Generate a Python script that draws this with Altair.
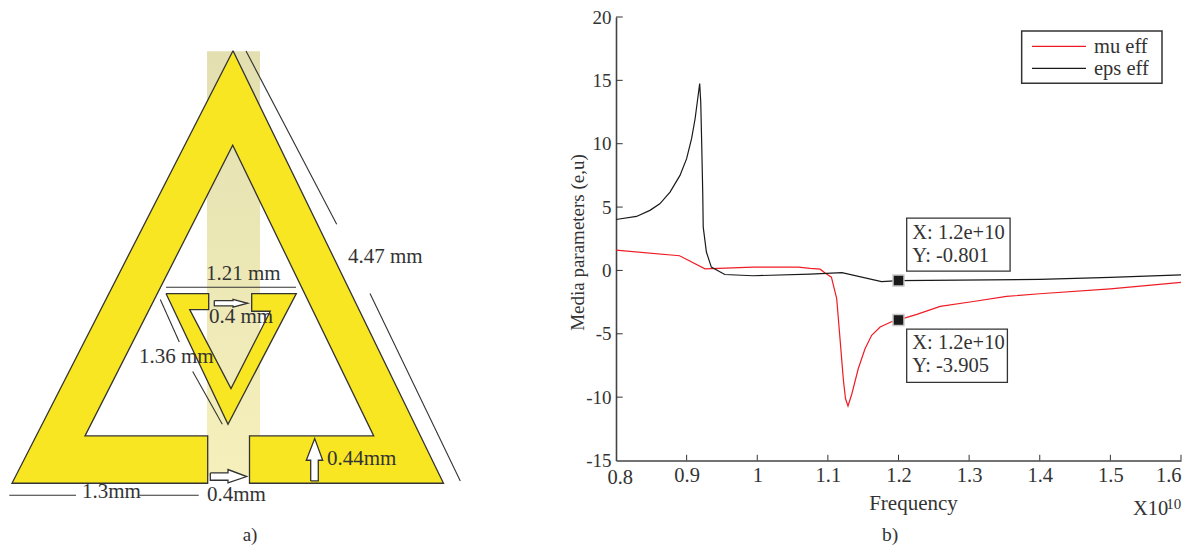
import altair as alt
import pandas as pd

FONT = "Liberation Serif"
INK = "#333333"
YELLOW = "#f8e622"

# ---------- panel b) data ----------
eps_x = [0.80, 0.829, 0.848, 0.862, 0.8765, 0.8906, 0.90, 0.907, 0.912, 0.9157, 0.9185, 0.92, 0.9213, 0.9228, 0.9235, 0.928, 0.935, 0.954, 0.994, 1.075, 1.12, 1.176, 1.20, 1.40, 1.50, 1.60]
eps_y = [4.02, 4.26, 4.74, 5.26, 6.18, 7.5, 8.82, 10.4, 11.97, 13.55, 14.74, 13.28, 10.13, 6.18, 3.42, 1.45, 0.26, -0.32, -0.42, -0.29, -0.18, -0.89, -0.801, -0.71, -0.55, -0.35]
mu_x = [0.80, 0.89, 0.926, 0.994, 1.058, 1.075, 1.089, 1.096, 1.105, 1.1125, 1.117, 1.122, 1.125, 1.1285, 1.134, 1.143, 1.1526, 1.162, 1.174, 1.19, 1.20, 1.226, 1.259, 1.306, 1.353, 1.40, 1.50, 1.60]
mu_y = [1.6, 1.16, 0.13, 0.26, 0.26, 0.16, 0.1, -0.21, -0.53, -2.23, -5.26, -8.68, -10.13, -10.7, -9.73, -7.76, -6.18, -5.12, -4.47, -4.05, -3.905, -3.47, -2.84, -2.45, -2.05, -1.84, -1.45, -0.95]
x_ticks = [0.8, 0.9, 1.0, 1.1, 1.2, 1.3, 1.4, 1.5, 1.6]
y_ticks = [-15, -10, -5, 0, 5, 10, 15, 20]
marker_x = [1.2, 1.2]
marker_y = [-0.801, -3.905]
box_x = [1.2116, 1.2116]
box_x2 = [1.358, 1.3542]
box_y = [4.13, -4.63]
box_y2 = [-0.05, -8.84]
tip_x = [1.2195, 1.2195, 1.2195, 1.2195]
tip_y = [2.95, 1.1, -5.76, -7.58]
tip_text = ["X: 1.2e+10", "Y: -0.801", "X: 1.2e+10", "Y: -3.905"]
series_names = ["mu eff", "eps eff"]
series_colors = ["#ee1c25", "#1a1a1a"]
legend_box = {"a": [1.3744], "b": [1.5731], "c": [18.89], "d": [14.78]}
legend_x = [1.389, 1.389]
legend_x2 = [1.4655, 1.4655]
legend_y = [17.68, 15.94]
legend_text_x = [1.4768, 1.4768]
legend_text_y = [17.6, 15.9]

# ---------- panel a) data, in drawing units ----------
outer_x = [232, 442.5, 248.5, 248.5, 372.7, 231.7, 84, 206.7, 206.7, 11, 232]
outer_y = [50.5, 483, 483, 435.7, 435.7, 145, 435.7, 435.7, 483, 483, 50.5]
inner_x = [165, 207.7, 207.7, 188.7, 230, 269.3, 250.7, 250.7, 295.3, 227, 165]
inner_y = [293.3, 293.3, 309.3, 309.3, 388.3, 311, 311, 293.3, 293.3, 424, 293.3]
arrow1_x = [213.3, 232, 232, 246.7, 232, 232, 213.3, 213.3]
arrow1_y = [300.3, 300.3, 299, 303, 307, 305.7, 305.7, 300.3]
arrow2_x = [209.3, 227, 227, 245.7, 227, 227, 209.3, 209.3]
arrow2_y = [472.7, 472.7, 469.3, 476.3, 482.7, 480, 480, 472.7]
arrow3_x = [309.7, 309.7, 305.3, 313.7, 321.7, 317.3, 317.3, 309.7]
arrow3_y = [480.7, 460, 460, 438.3, 460, 460, 480.7, 480.7]
dim_x = [245, 369, 165, 159.3, 191.7, 8.3, 138.3]
dim_y = [50.7, 293.3, 287, 299.3, 371.3, 495, 495]
dim_x2 = [335.7, 459.3, 295, 178.3, 221.3, 75, 197.7]
dim_y2 = [224, 480.7, 287, 341.7, 424, 495, 495]
label_x = [347, 205, 208, 138, 81, 206, 326]
label_y = [257, 274, 317, 357, 492, 495, 459]
label_text = ["4.47 mm", "1.21 mm", "0.4 mm", "1.36 mm", "1.3mm", "0.4mm", "0.44mm"]
band_x, band_x2, band_y, band_y2 = [206], [259], [51], [476]

# ---------- panel a) ----------
sx = alt.Scale(domain=[11, 567], nice=False, zero=False)
sy = alt.Scale(domain=[460.25, 16.75], nice=False, zero=False)
X = alt.X("x:Q", scale=sx, axis=None)
Y = alt.Y("y:Q", scale=sy, axis=None)


def poly(xs, ys, fill):
    d = pd.DataFrame({"x": xs, "y": ys, "i": range(len(xs))})
    return alt.Chart(d).mark_line(fill=fill, stroke=INK, strokeWidth=1.3, strokeJoin="miter", clip=False).encode(
        x=X, y=Y, order="i:Q")


band = alt.Chart(pd.DataFrame({"x": band_x, "x2": band_x2, "y": band_y, "y2": band_y2})).mark_rect(
    color=alt.LinearGradient(
        gradient="linear", x1=0, x2=0, y1=0, y2=1,
        stops=[alt.GradientStop(color="#e3dfb0", offset=0), alt.GradientStop(color="#f5f0bb", offset=1)],
    )
).encode(x=X, x2="x2:Q", y=Y, y2="y2:Q")

dims = alt.Chart(pd.DataFrame({"x": dim_x, "x2": dim_x2, "y": dim_y, "y2": dim_y2})).mark_rule(
    color=INK, strokeWidth=1.1).encode(x=X, x2="x2:Q", y=Y, y2="y2:Q")

labels = alt.Chart(pd.DataFrame({"x": label_x, "y": label_y, "t": label_text})).mark_text(
    font=FONT, fontSize=21, color=INK, align="left", baseline="middle").encode(x=X, y=Y, text="t:N")

cap_a = alt.Chart(pd.DataFrame({"x": [249], "y": [535], "t": ["a)"]})).mark_text(
    font=FONT, fontSize=19, color=INK, align="center", baseline="middle").encode(x=X, y=Y, text="t:N")

left = alt.layer(
    band,
    poly(outer_x, outer_y, YELLOW),
    poly(inner_x, inner_y, YELLOW),
    dims,
    poly(arrow1_x, arrow1_y, "#ffffff"),
    poly(arrow2_x, arrow2_y, "#ffffff"),
    poly(arrow3_x, arrow3_y, "#ffffff"),
    labels,
    cap_a,
).properties(width=556, height=443.5)

# ---------- panel b) ----------
curves = pd.concat([
    pd.DataFrame({"f": mu_x, "v": mu_y, "s": series_names[0], "i": range(len(mu_x))}),
    pd.DataFrame({"f": eps_x, "v": eps_y, "s": series_names[1], "i": range(len(eps_x))}),
])
fx = alt.Scale(domain=[0.8, 1.6], nice=False, zero=False)
fy = alt.Scale(domain=[-15, 20], nice=False, zero=False)
cs = alt.Scale(domain=series_names, range=series_colors)
AX = alt.X("f:Q", scale=fx, axis=alt.Axis(
    values=x_ticks, ticks=False, grid=False, domainColor="#444444", domainWidth=1.6,
    labelExpr="datum.value == 0.8 ? '' : '' + datum.value", labelFont=FONT, labelFontSize=20.5, labelColor=INK,
    labelPadding=5, title="Frequency", titleFont=FONT, titleFontSize=21, titleFontWeight="normal",
    titleColor=INK, titleX=297, titleY=43, titleBaseline="middle", titleAnchor="middle"))
AY = alt.Y("v:Q", scale=fy, axis=alt.Axis(
    values=y_ticks, ticks=False, grid=False, domainColor="#444444", domainWidth=1.6,
    labelExpr="'' + datum.value", labelFont=FONT, labelFontSize=19, labelColor=INK, labelPadding=5,
    title="Media parameters (e,u)", titleFont=FONT, titleFontSize=19, titleFontWeight="normal",
    titleColor=INK, titleX=-39, titleY=225, titleBaseline="middle", titleAnchor="middle"))

lines = alt.Chart(curves).mark_line(strokeWidth=1.2, clip=False).encode(
    x=AX, y=AY, order="i:Q", color=alt.Color("s:N", sort=series_names, scale=cs, legend=None))
xt = pd.DataFrame({"f": x_ticks[1:], "a": -15.0, "b": -14.55})
yt = pd.DataFrame({"v": y_ticks[1:], "a": 0.8, "b": 0.8095})
xticks = alt.Chart(xt).mark_rule(color=INK, strokeWidth=1).encode(
    x=alt.X("f:Q", scale=fx), y=alt.Y("a:Q", scale=fy), y2="b:Q")
yticks = alt.Chart(yt).mark_rule(color=INK, strokeWidth=1).encode(
    y=alt.Y("v:Q", scale=fy), x=alt.X("a:Q", scale=fx), x2="b:Q")
boxes = alt.Chart(pd.DataFrame({"a": box_x, "b": box_x2, "c": box_y, "d": box_y2})).mark_rect(
    fill="#ffffff", stroke=INK, strokeWidth=1.3).encode(
    x=alt.X("a:Q", scale=fx), x2="b:Q", y=alt.Y("c:Q", scale=fy), y2="d:Q")
tips = alt.Chart(pd.DataFrame({"f": tip_x, "v": tip_y, "t": tip_text})).mark_text(
    font=FONT, fontSize=20.5, color=INK, align="left", baseline="middle").encode(
    x=alt.X("f:Q", scale=fx), y=alt.Y("v:Q", scale=fy), text="t:N")
marks = alt.Chart(pd.DataFrame({"f": marker_x, "v": marker_y})).mark_point(
    shape="square", filled=True, fill="#1a1a1a", stroke="#c8c8c8", strokeWidth=1.5, size=120, opacity=1).encode(
    x=alt.X("f:Q", scale=fx), y=alt.Y("v:Q", scale=fy))

lg_frame = alt.Chart(pd.DataFrame(legend_box)).mark_rect(fill="#ffffff", stroke=INK, strokeWidth=1.5).encode(
    x=alt.X("a:Q", scale=fx), x2="b:Q", y=alt.Y("c:Q", scale=fy), y2="d:Q")
lg_lines = alt.Chart(pd.DataFrame({"a": legend_x, "b": legend_x2, "c": legend_y, "s": series_names})).mark_rule(
    strokeWidth=1.2).encode(
    x=alt.X("a:Q", scale=fx), x2="b:Q", y=alt.Y("c:Q", scale=fy),
    color=alt.Color("s:N", sort=series_names, scale=cs, legend=None))
lg_text = alt.Chart(pd.DataFrame({"f": legend_text_x, "v": legend_text_y, "t": series_names})).mark_text(
    font=FONT, fontSize=20.5, color=INK, align="left", baseline="middle").encode(
    x=alt.X("f:Q", scale=fx), y=alt.Y("v:Q", scale=fy), text="t:N")


def note(f, v, t, size, align="left"):
    return alt.Chart(pd.DataFrame({"f": [f], "v": [v], "t": [t]})).mark_text(
        font=FONT, fontSize=size, color=INK, align=align, baseline="middle").encode(
        x=alt.X("f:Q", scale=fx), y=alt.Y("v:Q", scale=fy), text="t:N")


right = alt.layer(
    lines, xticks, yticks, boxes, tips, marks, lg_frame, lg_lines, lg_text,
    note(0.806, -16.42, "0.8", 20.5, "center"),
    note(1.532, -18.86, "X10", 20.5),
    note(1.579, -18.4, "10", 15),
    note(1.188, -20.9, "b)", 19.5, "center"),
).properties(width=565, height=443.5)

chart = alt.hconcat(left, right, spacing=0).properties(padding=0).configure_view(stroke=None).configure_concat(spacing=0)
chart.save("out.html", embed_options={"renderer": "svg", "actions": False})
